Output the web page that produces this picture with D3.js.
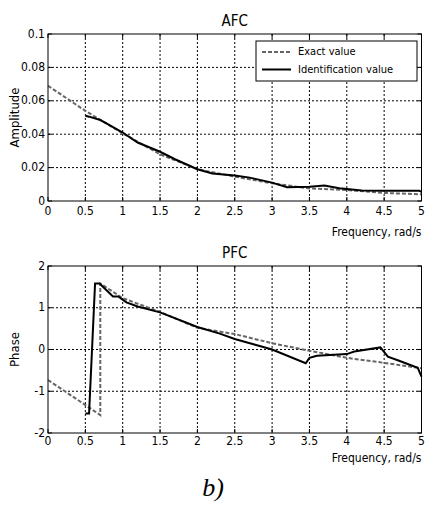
<!DOCTYPE html>
<html>
<head>
<meta charset="utf-8">
<script src="https://cdn.jsdelivr.net/npm/d3@7"></script>
<style>
  body { margin: 0; background: #fff; }
  svg text { font-family: "DejaVu Sans Condensed", "Liberation Sans Narrow", "Arial Narrow", sans-serif; font-stretch: condensed; }
</style>
</head>
<body>
<div id="chart"></div>
<script>
// AFC / PFC comparison: exact vs identified frequency response
const xTicks = [0, 0.5, 1, 1.5, 2, 2.5, 3, 3.5, 4, 4.5, 5];
const ampTicks = [0, 0.02, 0.04, 0.06, 0.08, 0.1];
const phaseTicks = [-2, -1, 0, 1, 2];

// AFC
const afcExactX = [0, 0.5, 1, 1.5, 2, 2.5, 3, 3.5, 4, 4.5, 5];
const afcExactY = [0.069, 0.054, 0.0405, 0.028, 0.019, 0.0146, 0.0106, 0.0075, 0.0066, 0.0048, 0.004];
const afcIdentX = [0.5, 0.55, 0.7, 0.8, 1.0, 1.2, 1.5, 1.7, 2.0, 2.2, 2.5, 2.7, 3.0, 3.2, 3.5, 3.7, 3.9, 4.2, 4.5, 4.97, 5.0];
const afcIdentY = [0.051, 0.0505, 0.0485, 0.046, 0.041, 0.035, 0.0295, 0.025, 0.019, 0.0165, 0.0152, 0.014, 0.011, 0.0083, 0.0085, 0.0093, 0.0077, 0.0063, 0.0062, 0.0062, 0.0055];

// PFC
const pfcExactX = [0, 0.7, 0.7, 1, 1.5, 2, 2.5, 3, 3.5, 4, 4.5, 5];
const pfcExactY = [-0.73, -1.57, 1.58, 1.23, 0.9, 0.52, 0.37, 0.15, -0.03, -0.2, -0.32, -0.45];
const pfcIdentX = [0.5, 0.55, 0.63, 0.69, 0.87, 0.94, 1.05, 1.2, 1.5, 2.0, 2.3, 2.5, 3.0, 3.45, 3.5, 3.6, 4.0, 4.1, 4.45, 4.55, 4.7, 4.95, 5.0];
const pfcIdentY = [-1.53, -1.53, 1.58, 1.58, 1.27, 1.27, 1.13, 1.03, 0.89, 0.54, 0.38, 0.25, 0.0, -0.33, -0.2, -0.15, -0.11, -0.05, 0.05, -0.17, -0.27, -0.44, -0.65];

const legendLabels = ["Exact value", "Identification value"];

const W = 425, H = 507;
const svg = d3.select('#chart').append('svg').attr('width', W).attr('height', H);

const x = d3.scaleLinear().domain([0, 5]).range([48, 421.5]);

function panel(opts) {
  const y = d3.scaleLinear().domain(opts.domain).range([opts.bottom, opts.top]);
  const g = svg.append('g');
  const [x0, x1] = x.range();

  // grid
  g.selectAll('line.vg').data(xTicks.slice(1, -1)).join('line')
    .attr('x1', d => x(d)).attr('x2', d => x(d))
    .attr('y1', opts.top).attr('y2', opts.bottom)
    .attr('stroke', '#000').attr('stroke-width', 1).attr('stroke-dasharray', '2,2');
  g.selectAll('line.hg').data(opts.ticks.slice(1, -1)).join('line')
    .attr('x1', x0).attr('x2', x1)
    .attr('y1', d => y(d)).attr('y2', d => y(d))
    .attr('stroke', '#000').attr('stroke-width', 1).attr('stroke-dasharray', '2,2');

  const line = d3.line().x(d => x(d[0])).y(d => y(d[1]));
  const exact = opts.exX.map((v, i) => [v, opts.exY[i]]);
  const ident = opts.idX.map((v, i) => [v, opts.idY[i]]);
  g.append('path').attr('d', line(exact)).attr('fill', 'none')
    .attr('stroke', '#666').attr('stroke-width', 2).attr('stroke-dasharray', '4,2');
  g.append('path').attr('d', line(ident)).attr('fill', 'none')
    .attr('stroke', '#000').attr('stroke-width', 2);

  // box
  g.append('rect').attr('x', x0).attr('y', opts.top)
    .attr('width', x1 - x0).attr('height', opts.bottom - opts.top)
    .attr('fill', 'none').attr('stroke', '#000').attr('stroke-width', 1);

  // tick marks (inside, both sides)
  xTicks.forEach(t => {
    g.append('line').attr('x1', x(t)).attr('x2', x(t)).attr('y1', opts.bottom).attr('y2', opts.bottom - 4).attr('stroke', '#000');
    g.append('line').attr('x1', x(t)).attr('x2', x(t)).attr('y1', opts.top).attr('y2', opts.top + 4).attr('stroke', '#000');
  });
  opts.ticks.forEach(t => {
    g.append('line').attr('x1', x0).attr('x2', x0 + 4).attr('y1', y(t)).attr('y2', y(t)).attr('stroke', '#000');
    g.append('line').attr('x1', x1).attr('x2', x1 - 4).attr('y1', y(t)).attr('y2', y(t)).attr('stroke', '#000');
  });

  // tick labels
  g.selectAll('text.xt').data(xTicks).join('text')
    .attr('x', d => x(d)).attr('y', opts.xTickY)
    .attr('text-anchor', 'middle').attr('dominant-baseline', 'middle')
    .attr('font-size', 12).text(d => d);
  g.selectAll('text.yt').data(opts.ticks).join('text')
    .attr('x', 45).attr('y', d => y(d))
    .attr('text-anchor', 'end').attr('dominant-baseline', 'middle')
    .attr('font-size', 12).text(d => d);

  g.append('text').attr('x', (x0 + x1) / 2).attr('y', opts.top - 13)
    .attr('text-anchor', 'middle').attr('dominant-baseline', 'middle')
    .attr('font-size', 15).text(opts.title);
  g.append('text').attr('x', x1).attr('y', opts.xLabelY)
    .attr('text-anchor', 'end').attr('dominant-baseline', 'middle')
    .attr('font-size', 12).text('Frequency, rad/s');
  g.append('text').attr('transform', `translate(${opts.yLabelX},${(opts.top + opts.bottom) / 2}) rotate(-90)`)
    .attr('text-anchor', 'middle').attr('dominant-baseline', 'middle')
    .attr('font-size', 13).text(opts.yLabel);
  return { g, y };
}

const afcPanel = panel({
  domain: [0, 0.1], top: 34, bottom: 201, ticks: ampTicks,
  exX: afcExactX, exY: afcExactY, idX: afcIdentX, idY: afcIdentY,
  title: 'AFC', yLabel: 'Amplitude', yLabelX: 15, xTickY: 211, xLabelY: 232
});
panel({
  domain: [-2, 2], top: 266, bottom: 433, ticks: phaseTicks,
  exX: pfcExactX, exY: pfcExactY, idX: pfcIdentX, idY: pfcIdentY,
  title: 'PFC', yLabel: 'Phase', yLabelX: 15, xTickY: 441, xLabelY: 458
});

// legend
const lg = afcPanel.g.append('g');
lg.append('rect').attr('x', 256).attr('y', 41).attr('width', 161).attr('height', 40)
  .attr('fill', '#fff').attr('stroke', '#000').attr('stroke-width', 1);
const legendStyles = [{ c: '#666', dash: '4,2' }, { c: '#000', dash: null }];
legendLabels.forEach((lab, i) => {
  const yy = 52 + i * 17.5;
  lg.append('line').attr('x1', 262).attr('x2', 291).attr('y1', yy).attr('y2', yy)
    .attr('stroke', legendStyles[i].c).attr('stroke-width', 2)
    .attr('stroke-dasharray', legendStyles[i].dash);
  lg.append('text').attr('x', 298).attr('y', yy).attr('dominant-baseline', 'middle')
    .attr('font-size', 11).text(lab);
});

const cap = svg.append('text').attr('x', 213).attr('y', 490)
  .attr('text-anchor', 'middle').attr('dominant-baseline', 'middle')
  .style('font-family', '"Liberation Serif", "Times New Roman", serif')
  .style('font-stretch', 'normal')
  .attr('font-style', 'italic')
  .attr('font-size', 26);
cap.append('tspan').text('b');
cap.append('tspan').text(')');
</script>
</body>
</html>
